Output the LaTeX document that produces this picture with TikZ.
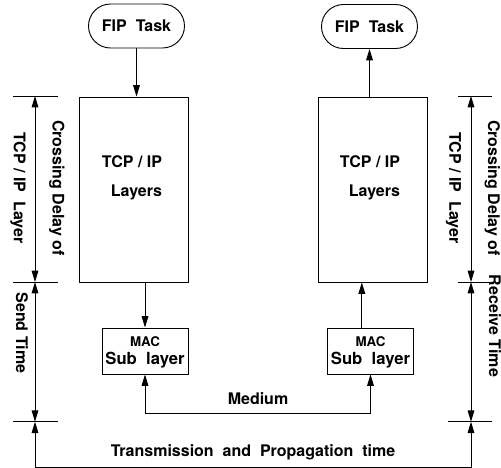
\documentclass[tikz,border=0pt]{standalone}
\usepackage{fontspec}
\setmainfont{TeX Gyre Heros}
\usetikzlibrary{positioning,arrows.meta,shapes.misc}

\begin{document}
\begin{tikzpicture}[x=0.75pt, y=-0.75pt,
  font=\bfseries\fontsize{12}{14}\selectfont,
  every node/.style={align=center},
  task/.style={draw, rounded rectangle, minimum width=74pt, minimum height=33pt, inner sep=1pt, line width=0.7pt},
  layer/.style={draw, minimum width=81.75pt, minimum height=138.75pt, line width=0.7pt},
  mac/.style={draw, minimum width=64.5pt, minimum height=34.5pt, inner sep=1pt, line width=0.7pt},
  rot/.style={rotate=-90},
  arr/.style={-{Triangle[length=8.5pt,width=5pt]}, line width=0.7pt},
  darr/.style={{Triangle[length=8.5pt,width=5pt]}-{Triangle[length=8.5pt,width=5pt]}, line width=0.7pt},
  tick/.style={line width=0.7pt}]
\useasboundingbox (0,0) rectangle (501,468);

% ---------------- sender side ----------------
\node[task] (fipL) at (136.5,26) {FIP\ \ Task};
\node[layer] (tcpL) at (133.5,189.5) {};
\node[align=right] (tcpLtxt) at (132,177.5) {TCP / IP\\[7.75pt]Layers};
\node[mac] (macL) at (145,351) {};
\node[font=\bfseries\fontsize{10}{12}\selectfont] (macLa) at (145,342) {MAC};
\node[font=\bfseries\fontsize{12.5}{14}\selectfont] (macLb) at (145,360) {Sub\ \ layer};

% ---------------- receiver side ----------------
\node[task] (fipR) at (369.5,26.5) {FIP\ \ Task};
\node[layer] (tcpR) at (372.8,189.5) {};
\node[align=right] (tcpRtxt) at (370,177.5) {TCP / IP\\[7.75pt]Layers};
\node[mac] (macR) at (370.5,351) {};
\node[font=\bfseries\fontsize{10}{12}\selectfont] (macRa) at (370.5,342) {MAC};
\node[font=\bfseries\fontsize{12.5}{14}\selectfont] (macRb) at (370.5,360) {Sub\ \ layer};

% ---------------- arrows ----------------
\draw[arr] (fipL.south) -- (fipL.south |- tcpL.north);
\draw[arr] (tcpL.south -| macL.north) -- (macL.north);
\draw[arr] ([xshift=-6.5pt]macR.north) -- ([xshift=-6.5pt]macR.north |- tcpR.south);
\draw[arr] (fipR.south |- tcpR.north) -- (fipR.south);

% medium
\draw[darr] (macL.south) -- ++(0,39) -| (macR.south);
\node (medium) at (258,399) {Medium};

% ---------------- time scales ----------------
\coordinate (lt) at (35,96);
\coordinate (lm) at (35,282);
\coordinate (lb) at (35,421.7);
\coordinate (rt) at (471,96);
\coordinate (rm) at (471,282);
\coordinate (rb) at (471,421.7);
\foreach \c in {lt,lm,lb}
  \draw[tick] (\c) ++(-22,0) -- ++(45,0);
\foreach \c in {rt,rm}
  \draw[tick] (\c) ++(-13,0) -- ++(34,0);
\draw[tick] (rb) ++(-23,0) -- ++(44,0);

\draw[darr] (lt) -- (lm);
\draw[darr] (lm) -- (lb);
\draw[darr] (rt) -- (rm);
\draw[darr] (rm) -- (rb);

\node[rot] (ldelay) at (37.5,188) {Crossing Delay of\\[15pt]TCP / IP\ \ Layer};
\node[rot] (rdelay) at (473,188) {Crossing Delay of\\[15pt]TCP / IP\ \ Layer};
\node[rot] (lsend) at (22,333) {Send Time};
\node[rot] (rrecv) at (495,326) {Receive Time};

% transmission and propagation
\draw[darr] (lb) -- ++(0,45.3) -| (rb);
\node (trans) at (253,452) {Transmission\ \ and\ \ Propagation\ \ time};
\end{tikzpicture}
\end{document}
